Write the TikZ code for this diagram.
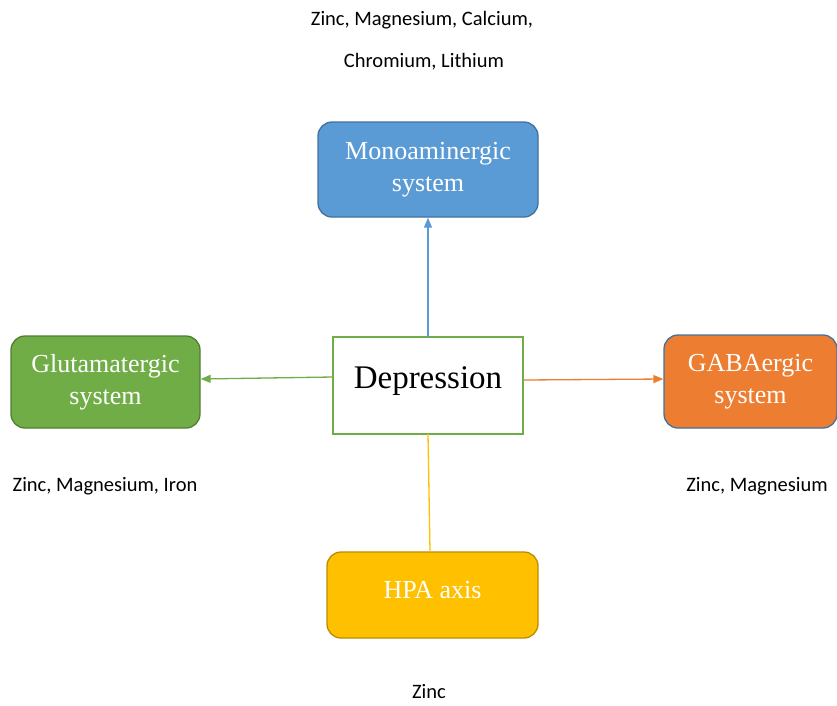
\documentclass[tikz,border=0pt]{standalone}
\usepackage{fontspec}
\setmainfont{Liberation Serif}
\newfontfamily\lblfont{Carlito}
\usetikzlibrary{arrows.meta}
\definecolor{cblue}{HTML}{5B9BD5}
\definecolor{cblueb}{HTML}{41719C}
\definecolor{cgreen}{HTML}{70AD47}
\definecolor{cgreenb}{HTML}{507E32}
\definecolor{corange}{HTML}{ED7D31}
\definecolor{cyellow}{HTML}{FFC000}
\definecolor{cyellowb}{HTML}{BC8C00}
\tikzset{
  sysbox/.style={draw, line width=1.3pt, rounded corners=14pt, text=white, align=center,
    font=\fontsize{26}{32}\selectfont, inner sep=0pt},
  lbl/.style={font=\lblfont\fontsize{20.5}{24}\selectfont, inner sep=0pt, text=black},
  conn/.style={line width=1.3pt, -{Triangle[length=10pt,width=8pt]}}
}
\begin{document}
\begin{tikzpicture}[x=1pt,y=-1pt]
\useasboundingbox (0,0) rectangle (837,705);
\node[sysbox, fill=cblue, draw=cblueb, minimum width=220pt, minimum height=95pt] (mono) at (428,169.5) {Monoaminergic\\system};
\node[sysbox, fill=cgreen, draw=cgreenb, minimum width=189pt, minimum height=92pt] (glu) at (105.5,382) {Glutamatergic\\system};
\node[sysbox, fill=corange, draw=cblueb, minimum width=173pt, minimum height=93pt] (gaba) at (750.5,381.5) {GABAergic\\system};
\node[sysbox, fill=cyellow, draw=cyellowb, minimum width=211pt, minimum height=86pt] (hpa) at (432.5,595) {};
\node[font=\fontsize{26}{32}\selectfont, text=white, inner sep=0pt] (hpat) at (432.5,590) {HPA axis};
\node[draw=cgreen, line width=1.5pt, fill=white, minimum width=190pt, minimum height=97pt, inner sep=0pt] (dep) at (428,385.5) {};
\node[font=\fontsize{33}{38}\selectfont, inner sep=0pt] (dept) at (428,381) {Depression};
\coordinate (depT) at (428,337);
\coordinate (depB) at (428,434);
\draw[conn, draw=cblue, fill=cblue] (depT) -- (mono.south);
\draw[conn, draw=cgreen, fill=cgreen] (dep.west |- 0,377) -- (glu.east |- 0,379);
\draw[conn, draw=corange, fill=corange] (dep.east |- 0,380) -- (gaba.west |- 0,379);
\draw[line width=1.3pt, draw=cyellow] (depB) -- (hpa.north -| 430,0);
\node[lbl] (l1) at (422,20) {Zinc, Magnesium, Calcium,};
\node[lbl] (l2) at (424,62) {Chromium, Lithium};
\node[lbl] (l3) at (105,486) {Zinc, Magnesium, Iron};
\node[lbl] (l4) at (757,486) {Zinc, Magnesium};
\node[lbl] (l5) at (429,692) {Zinc};
\end{tikzpicture}
\end{document}
